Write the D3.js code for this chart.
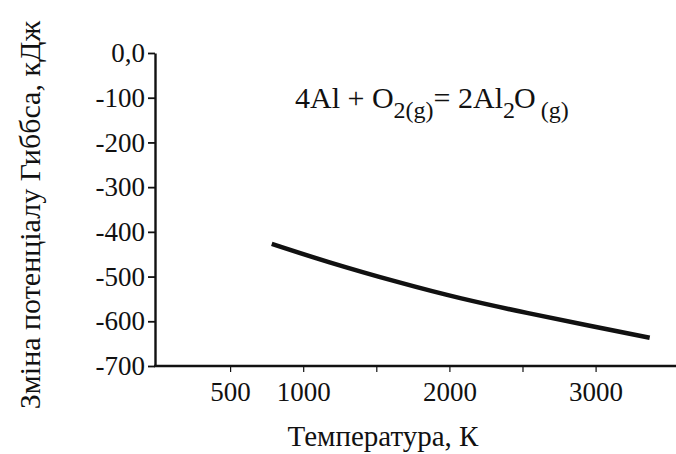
<!DOCTYPE html>
<html><head><meta charset="utf-8">
<script src="https://cdn.jsdelivr.net/npm/d3@7"></script>
<style>body{margin:0;background:#fff}svg{display:block}text{font-family:"Liberation Serif","Times New Roman",serif;fill:#111}</style>
</head><body>
<svg id="c" width="676" height="454"></svg>
<script>
const temperature = [785, 1160, 1660, 2070, 2550, 2960, 3370];
const gibbs = [-427, -467, -514, -549, -583, -610, -637];
const yTicks = [0, -100, -200, -300, -400, -500, -600, -700];
const yTickLabels = ["0,0", "-100", "-200", "-300", "-400", "-500", "-600", "-700"];
const xTicks = [500, 1000, 1500, 2000, 2500, 3000];
const xTickLabels = ["500", "1000", "", "2000", "", "3000"];

const svg = d3.select("#c");
const x = d3.scaleLinear().domain([0, 3550]).range([157, 676]);
const y = d3.scaleLinear().domain([-700, 0]).range([366, 53]);

const yAxis = d3.axisLeft(y).tickValues(yTicks).tickFormat((d,i)=>yTickLabels[i]).tickSize(7).tickSizeOuter(0).tickPadding(3);
const gy = svg.append("g").attr("transform","translate(155,0)").call(yAxis);
gy.select(".domain").attr("stroke","#111").attr("stroke-width",2.4);
gy.selectAll(".tick line").attr("stroke","#111").attr("stroke-width",1.8);
gy.selectAll(".tick text").style("font-size","27px").attr("fill","#111");

const xAxis = d3.axisBottom(x).tickValues(xTicks).tickFormat((d,i)=>xTickLabels[i]).tickSize(6).tickSizeOuter(0).tickPadding(10);
const gx = svg.append("g").attr("transform","translate(0,366)").call(xAxis);
gx.select(".domain").remove();
gx.append("line").attr("x1",154).attr("x2",676).attr("y1",0).attr("y2",0).attr("stroke","#111").attr("stroke-width",2.4);
gx.selectAll(".tick line").attr("stroke","#111").attr("stroke-width",1.2);
gx.selectAll(".tick text").style("font-size","27px").attr("fill","#111");

const line = d3.line().x((d,i)=>x(temperature[i])).y(d=>y(d)).curve(d3.curveBasis);
svg.append("path").datum(gibbs).attr("d",line).attr("fill","none").attr("stroke","#111").attr("stroke-width",4.5);

svg.append("text").attr("transform","translate(40,215) rotate(-90)").attr("text-anchor","middle")
  .style("font-size","30px").text("Зміна потенціалу Гиббса, кДж");
svg.append("text").attr("x",383).attr("y",446).attr("text-anchor","middle")
  .style("font-size","29px").text("Температура, К");

const eq = svg.append("text").attr("x",295).attr("y",108).style("font-size","30px");
eq.append("tspan").text("4Al + O");
eq.append("tspan").attr("dy",10).style("font-size","24px").text("2(g)");
eq.append("tspan").attr("dy",-10).text("= 2Al");
eq.append("tspan").attr("dy",10).style("font-size","24px").text("2");
eq.append("tspan").attr("dy",-10).attr("dx",-1).text("O");
eq.append("tspan").attr("dy",10).attr("dx",5).style("font-size","24px").text("(g)");
</script>
</body></html>
